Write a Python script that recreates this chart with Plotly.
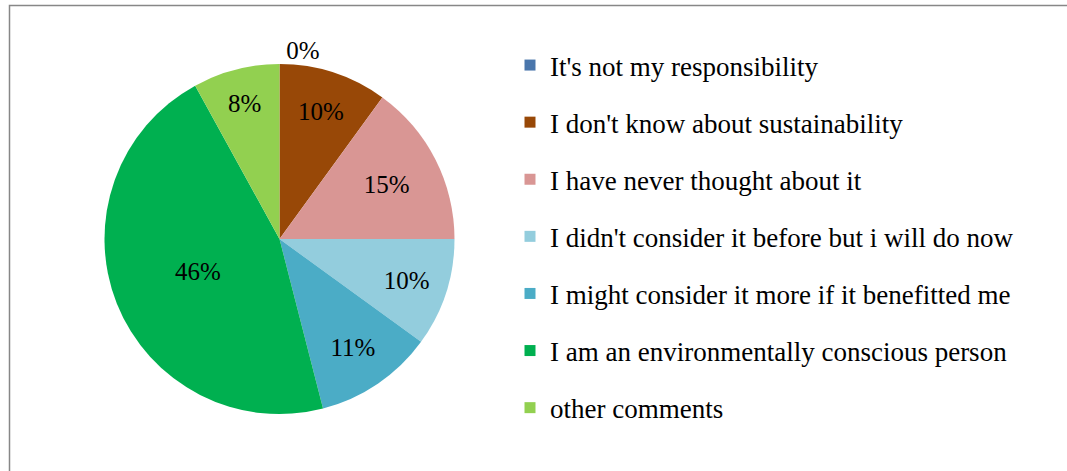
import plotly.graph_objects as go

labels = [
    "It's not my responsibility",
    "I don't know about sustainability",
    "I have never thought about it",
    "I didn't consider it before but i will do now",
    "I might consider it more if it benefitted me",
    "I am an environmentally conscious person",
    "other comments",
]
values = [0, 10, 15, 10, 11, 46, 8]
colors = ["#4A76AB", "#984807", "#D99694", "#93CDDD", "#4BACC6", "#00B050", "#92D050"]
text_positions = ["outside", "inside", "inside", "inside", "inside", "inside", "inside"]

W, H = 1067, 471
FONT = "Liberation Serif, Times New Roman, serif"

fig = go.Figure()
fig.add_trace(go.Pie(
    labels=labels,
    values=values,
    sort=False,
    direction="clockwise",
    rotation=0,
    marker=dict(colors=colors, line=dict(width=0)),
    texttemplate="%{value}%",
    textposition=text_positions,
    insidetextorientation="horizontal",
    textfont=dict(family=FONT, size=25, color="#000000"),
    domain=dict(x=[104 / W, 455 / W], y=[1 - 414 / H, 1 - 64 / H]),
    showlegend=False,
    hoverinfo="label+percent",
))

for i, (lab, col) in enumerate(zip(labels, colors)):
    fig.add_trace(go.Scatter(
        x=[None], y=[None], mode="markers", name=lab,
        marker=dict(symbol="square", size=11, color=col),
        legendgroup=f"g{i}", showlegend=True,
    ))

fig.update_layout(
    width=W, height=H,
    margin=dict(l=0, r=0, t=0, b=0),
    paper_bgcolor="white", plot_bgcolor="white",
    font=dict(family=FONT),
    xaxis=dict(visible=False), yaxis=dict(visible=False),
    uniformtext=dict(minsize=25, mode="show"),
    legend=dict(
        x=510 / W, xanchor="left",
        y=1 - 41 / H, yanchor="top",
        font=dict(family=FONT, size=27, color="#000000"),
        tracegroupgap=19,
        itemwidth=30,
        bgcolor="rgba(0,0,0,0)",
    ),
    shapes=[dict(
        type="rect", xref="paper", yref="paper",
        x0=9.5 / W, x1=1.2, y0=-0.2, y1=1 - 5.5 / H,
        line=dict(color="#878787", width=1.5), layer="below",
    )],
)

fig.write_html("out.html")
